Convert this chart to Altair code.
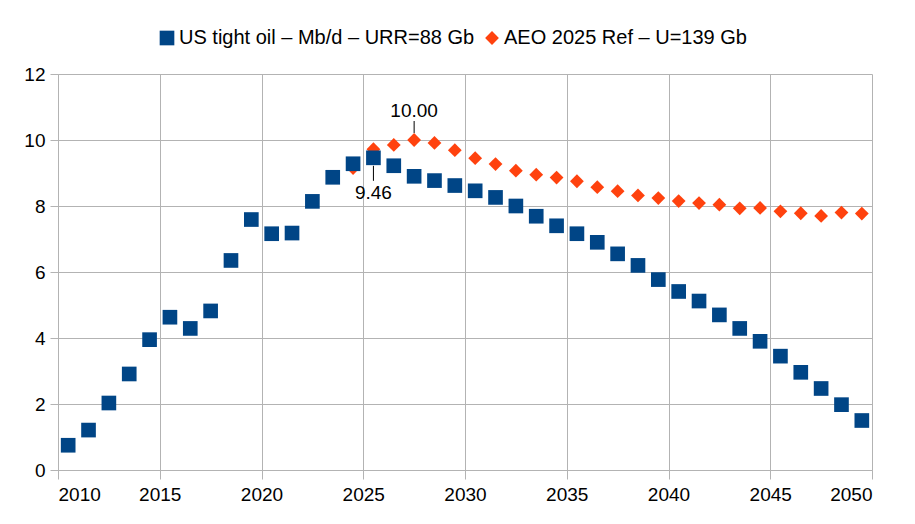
import altair as alt
import pandas as pd

# ---- data ----
blue_name = "US tight oil – Mb/d – URR=88 Gb"
red_name = "AEO 2025 Ref – U=139 Gb"

blue_years = list(range(2010, 2050))
blue_values = [0.75, 1.21, 2.03, 2.91, 3.95, 4.63, 4.29, 4.82, 6.35, 7.59,
               7.16, 7.18, 8.14, 8.87, 9.28, 9.46, 9.22, 8.90, 8.77, 8.62,
               8.46, 8.26, 8.00, 7.69, 7.40, 7.16, 6.90, 6.55, 6.20, 5.77,
               5.41, 5.12, 4.70, 4.29, 3.90, 3.45, 2.96, 2.47, 1.98, 1.50]

red_years = list(range(2024, 2050))
red_values = [9.15, 9.72, 9.85, 10.00, 9.91, 9.69, 9.45, 9.27, 9.07, 8.95,
              8.86, 8.75, 8.57, 8.45, 8.32, 8.24, 8.15, 8.09, 8.04, 7.93,
              7.94, 7.84, 7.78, 7.70, 7.80, 7.77]

x_ticks = [2010, 2015, 2020, 2025, 2030, 2035, 2040, 2045, 2050]
y_ticks = [0, 2, 4, 6, 8, 10, 12]

# annotated points
red_ann_year = 2027
blue_ann_year = 2025

FONT = "Liberation Sans"
GRID = "#b3b3b3"
BLUE = "#004586"
RED = "#ff420e"

rows = []
for y, v in zip(red_years, red_values):
    rows.append({"x": y + 0.5, "v": v, "series": red_name})
for y, v in zip(blue_years, blue_values):
    rows.append({"x": y + 0.5, "v": v, "series": blue_name})
df = pd.DataFrame(rows)

red_ann = pd.DataFrame({"x": [red_ann_year + 0.5],
                        "v": [red_values[red_years.index(red_ann_year)]]})
blue_ann = pd.DataFrame({"x": [blue_ann_year + 0.5],
                         "v": [blue_values[blue_years.index(blue_ann_year)]]})

xscale = alt.Scale(domain=[2010, 2050], nice=False, zero=False)
yscale = alt.Scale(domain=[0, 12], nice=False)

xaxis = alt.Axis(values=x_ticks, format="d", title=None, grid=True,
                 tickSize=9, labelPadding=6)
yaxis = alt.Axis(values=y_ticks, title=None, grid=True, tickSize=8,
                 labelPadding=5)

points = alt.Chart(df).mark_point(filled=True, opacity=1, strokeWidth=0).encode(
    x=alt.X("x:Q", scale=xscale, axis=xaxis),
    y=alt.Y("v:Q", scale=yscale, axis=yaxis),
    color=alt.Color("series:N",
                    scale=alt.Scale(domain=[blue_name, red_name], range=[BLUE, RED]),
                    legend=alt.Legend(title=None, orient="none", direction="horizontal",
                                      legendX=99, legendY=-46,
                                      labelFontSize=20, labelFont=FONT,
                                      labelColor="black", symbolSize=150,
                                      columnPadding=7, labelOffset=2,
                                      labelLimit=500,
                                      symbolStrokeWidth=0)),
    shape=alt.Shape("series:N",
                    scale=alt.Scale(domain=[blue_name, red_name], range=["square", "diamond"])),
    size=alt.Size("series:N",
                  scale=alt.Scale(domain=[blue_name, red_name], range=[215, 190]),
                  legend=None),
)

red_rule = alt.Chart(red_ann).mark_rule(color="black", strokeWidth=1,
                                        yOffset=-7, y2Offset=-19).encode(
    x=alt.X("x:Q", scale=xscale), y="v:Q", y2="v:Q")
red_text = alt.Chart(red_ann).mark_text(font=FONT, fontSize=19, color="black",
                                        baseline="alphabetic", dy=-23).encode(
    x=alt.X("x:Q", scale=xscale), y="v:Q", text=alt.Text("v:Q", format=".2f"))

blue_rule = alt.Chart(blue_ann).mark_rule(color="black", strokeWidth=1,
                                          yOffset=8, y2Offset=23).encode(
    x=alt.X("x:Q", scale=xscale), y="v:Q", y2="v:Q")
blue_text = alt.Chart(blue_ann).mark_text(font=FONT, fontSize=19, color="black",
                                          baseline="alphabetic", dy=41).encode(
    x=alt.X("x:Q", scale=xscale), y="v:Q", text=alt.Text("v:Q", format=".2f"))

chart = alt.layer(points, red_rule, red_text, blue_rule, blue_text).properties(
    width=814, height=396,
    autosize=alt.AutoSizeParams(type="none"),
    padding={"left": 50, "top": 66, "right": 35, "bottom": 45},
    background="white",
).configure_view(strokeWidth=0).configure_axis(
    gridColor=GRID, gridOpacity=1, gridWidth=1,
    domainColor=GRID, domainWidth=1,
    tickColor=GRID, tickWidth=1,
    labelFont=FONT, labelFontSize=19, labelColor="black",
)

chart.save("out.html", embed_options={"renderer": "svg", "actions": False})
